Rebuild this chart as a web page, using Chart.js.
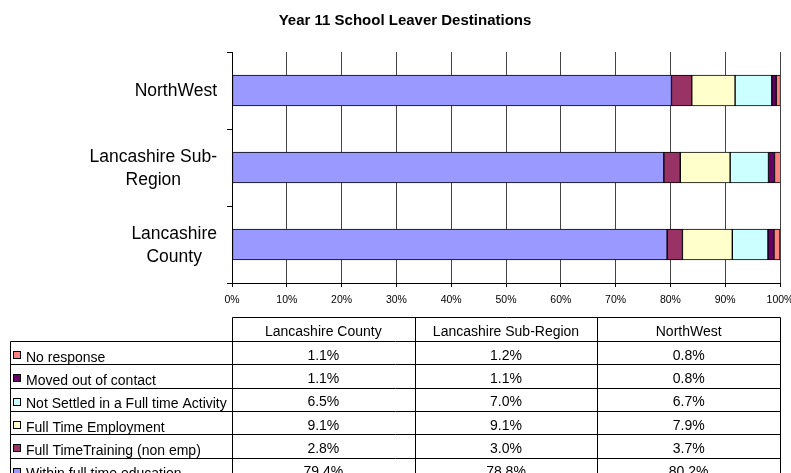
<!DOCTYPE html>
<html>
<head>
<meta charset="utf-8">
<script src="https://cdn.jsdelivr.net/npm/chart.js@4/dist/chart.umd.min.js"></script>
<style>
  html, body { margin: 0; padding: 0; background: #fff; }
  #wrap { width: 791px; height: 473px; overflow: hidden; }
</style>
</head>
<body>
<div id="wrap"><canvas id="c" width="791" height="473"></canvas></div>
<script>
const chartTitle = 'Year 11 School Leaver Destinations';
const categories = ['Lancashire County', 'Lancashire Sub-Region', 'NorthWest'];
const seriesNames = [
  'Within full time education',
  'Full TimeTraining (non emp)',
  'Full Time Employment',
  'Not Settled in a Full time Activity',
  'Moved out of contact',
  'No response'
];
const education  = [79.4, 78.8, 80.2];
const training   = [2.8, 3.0, 3.7];
const employment = [9.1, 9.1, 7.9];
const notSettled = [6.5, 7.0, 6.7];
const movedOut   = [1.1, 1.1, 0.8];
const noResponse = [1.1, 1.2, 0.8];
const seriesValues = [education, training, employment, notSettled, movedOut, noResponse];
const seriesColors = ['#9999FF', '#993366', '#FFFFCC', '#CCFFFF', '#660066', '#FF8080'];

const FONT = '"Liberation Sans", Arial, sans-serif';

function wrapLabel(ctx, text, maxW) {
  const tokens = text.match(/[^\s-]+-?|\s+/g) || [text];
  const lines = [];
  let cur = '';
  for (const t of tokens) {
    const trial = cur + t;
    if (cur.trim() !== '' && ctx.measureText(trial.trim()).width > maxW) {
      lines.push(cur.trim());
      cur = t.trim() === '' ? '' : t;
    } else {
      cur = trial;
    }
  }
  if (cur.trim() !== '') lines.push(cur.trim());
  return lines;
}

const extras = {
  id: 'extras',
  beforeDraw(chart) {
    const ctx = chart.ctx;
    ctx.save();
    ctx.fillStyle = '#fff';
    ctx.fillRect(0, 0, chart.width, chart.height);
    ctx.restore();
  },
  afterDraw(chart) {
    const ctx = chart.ctx;
    const area = chart.chartArea;
    const yScale = chart.scales.y;
    ctx.save();
    ctx.font = '17.5px ' + FONT;
    ctx.fillStyle = '#000';
    ctx.textBaseline = 'middle';
    ctx.textAlign = 'center';
    const labelRight = yScale.right - 15;
    const lineH = 23;
    categories.forEach((cat, i) => {
      const lines = wrapLabel(ctx, cat, 140);
      const blockW = Math.max(...lines.map(l => ctx.measureText(l).width));
      const cx = labelRight - blockW / 2;
      const yc = yScale.getPixelForValue(i);
      const y0 = yc - (lines.length - 1) * lineH / 2;
      lines.forEach((l, k) => ctx.fillText(l, cx, y0 + k * lineH + 1));
    });

    // data table
    const left = area.left, right = area.right;
    const colW = (right - left) / categories.length;
    const tableLeft = 10;
    const top = 317;
    const headH = 24;
    const rowH = 23.3;
    const rows = seriesNames.map((n, i) => i).reverse();
    const px = v => Math.round(v) + 0.5;
    ctx.strokeStyle = '#000';
    ctx.lineWidth = 1;
    const bottom = top + headH + rows.length * rowH;
    ctx.beginPath();
    ctx.moveTo(px(left), px(top)); ctx.lineTo(px(right), px(top));
    for (let r = 0; r <= rows.length; r++) {
      const y = px(top + headH + r * rowH);
      ctx.moveTo(px(tableLeft), y); ctx.lineTo(px(right), y);
    }
    ctx.moveTo(px(tableLeft), px(top + headH)); ctx.lineTo(px(tableLeft), bottom);
    for (let c = 0; c <= categories.length; c++) {
      const x = px(left + c * colW);
      ctx.moveTo(x, px(top)); ctx.lineTo(x, bottom);
    }
    ctx.stroke();

    ctx.textBaseline = 'alphabetic';
    ctx.textAlign = 'center';
    ctx.font = '14px ' + FONT;
    categories.forEach((cat, c) => {
      ctx.fillText(cat, left + (c + 0.5) * colW, top + headH - 5);
    });
    rows.forEach((si, r) => {
      const rTop = top + headH + r * rowH;
      const rBot = rTop + rowH;
      ctx.fillStyle = seriesColors[si];
      ctx.fillRect(13, Math.round(rTop) + 10, 8, 8);
      ctx.strokeStyle = '#000';
      ctx.strokeRect(13.5, Math.round(rTop) + 10.5, 7, 7);
      ctx.fillStyle = '#000';
      ctx.textAlign = 'left';
      ctx.font = '14px ' + FONT;
      ctx.fillText(seriesNames[si], 26, rBot - 2.5);
      ctx.textAlign = 'center';
      seriesValues[si].forEach((v, c) => {
        ctx.fillText(v.toFixed(1) + '%', left + (c + 0.5) * colW, rBot - 4.5);
      });
    });
    ctx.restore();
  }
};

new Chart(document.getElementById('c'), {
  type: 'bar',
  data: {
    labels: categories,
    datasets: seriesNames.map((name, i) => ({
      label: name,
      data: seriesValues[i],
      backgroundColor: seriesColors[i],
      borderColor: '#000',
      borderWidth: 1,
      borderSkipped: false,
      barThickness: 31
    }))
  },
  options: {
    indexAxis: 'y',
    responsive: false,
    animation: false,
    devicePixelRatio: 1,
    layout: { padding: { left: 30, right: 11, top: 0, bottom: 161 } },
    plugins: {
      legend: { display: false },
      tooltip: { enabled: false },
      title: {
        display: true,
        text: chartTitle,
        color: '#000',
        font: { family: FONT, size: 15, weight: 'bold' },
        padding: { top: 12, bottom: 22 }
      }
    },
    scales: {
      x: {
        stacked: true,
        min: 0,
        max: 100,
        afterFit: s => { s.height = 29; s.paddingLeft = 0; s.paddingRight = 0; },
        ticks: {
          stepSize: 10,
          padding: 7,
          color: '#000',
          maxRotation: 0,
          font: { family: FONT, size: 10.5 },
          callback: v => v + '%'
        },
        grid: { color: '#444', tickColor: '#000', tickLength: 4, lineWidth: 1 },
        border: { display: true, color: '#000' }
      },
      y: {
        stacked: true,
        reverse: true,
        afterFit: s => { s.width = 202; },
        ticks: { display: false },
        grid: { drawOnChartArea: false, drawTicks: true, tickLength: 5, color: '#000', offset: true },
        border: { display: true, color: '#000' }
      }
    }
  },
  plugins: [extras]
});
</script>
</body>
</html>
